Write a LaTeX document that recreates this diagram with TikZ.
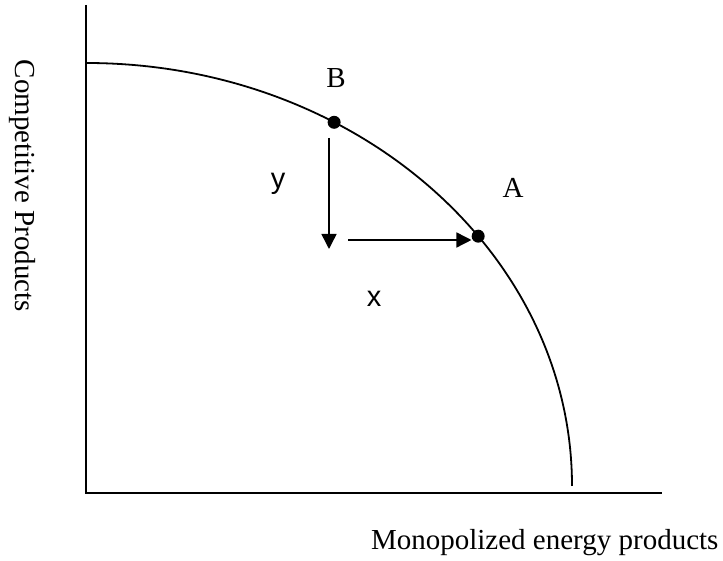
\documentclass[tikz,border=0pt]{standalone}
\usepackage{fontspec}
\setmainfont{Liberation Serif}
\setsansfont{Liberation Sans}
\usetikzlibrary{arrows.meta, positioning}

\begin{document}
\begin{tikzpicture}[
    x=1pt, y=1pt,
    axis/.style={draw, line width=2pt},
    curve/.style={draw, line width=1.8pt},
    dot/.style={circle, fill=black, inner sep=0pt, minimum size=13pt},
    ptlabel/.style={font=\fontsize{29}{34}\selectfont, anchor=base},
    varlabel/.style={font=\sffamily\fontsize{29}{34}\selectfont, anchor=base},
    axislabel/.style={font=\fontsize{29}{34}\selectfont},
    line/.style={draw, -{Triangle[length=15pt,width=15pt]}, line width=1.5pt}
]
    \useasboundingbox (0,0) rectangle (723,561);
    \coordinate (origin) at (86,68);
    \coordinate (ytop) at (86,556);
    \coordinate (xend) at (662,68);
    \coordinate (center) at (86,75);

    \path [axis] (ytop) -- (origin) -- (xend);
    \path [curve] (86,498) arc [start angle=90, end angle=0, x radius=486, y radius=423];

    \path (center) ++(59.3:486 and 423) node [dot] (b) {};
    \path (center) ++(36.2:486 and 423) node [dot] (a) {};

    \coordinate (drop) at (329,423);
    \coordinate (low) at (329,312);
    \coordinate (run) at (348,321);
    \path [line] (drop) -- (low);
    \path [line] (run) -- (run -| a.west);

    \node [ptlabel] (blabel) at (336,473) {B};
    \node [ptlabel] (alabel) at (513,363) {A};
    \node [varlabel] (ylabel) at (278,372) {y};
    \node [varlabel] (xlabel) at (374,254) {x};

    \node [axislabel, anchor=base east] (xtitle) at (722,11) {Monopolized energy products};
    \node [axislabel, rotate=-90] (ytitle) at (22,375) {Competitive Products};
\end{tikzpicture}
\end{document}
